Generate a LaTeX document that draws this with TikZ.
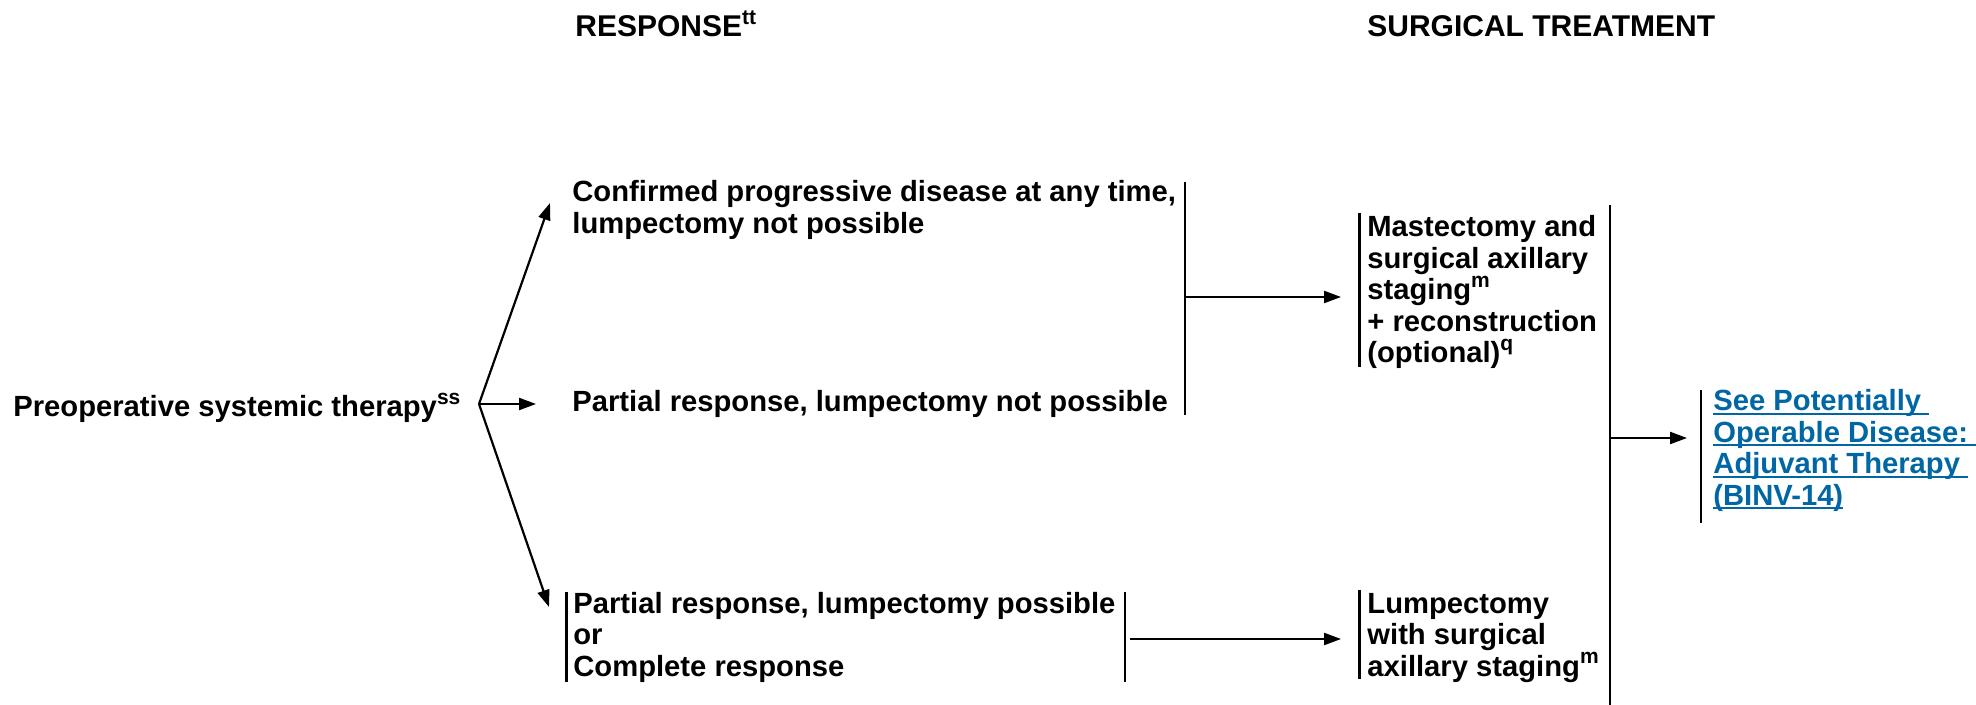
\documentclass[tikz,border=0pt]{standalone}
\usepackage{fontspec}
\setmainfont{Liberation Sans}
\usetikzlibrary{arrows.meta,calc}
\definecolor{linkblue}{RGB}{0,103,164}
\newcommand{\mybodyfont}{\fontsize{14.6pt}{15.75pt}\selectfont\bfseries}
\newcommand{\myheadfont}{\fontsize{15pt}{16pt}\selectfont\bfseries}
\newcommand{\myul}[1]{\setbox0\hbox{#1}\rlap{\rule[-2.1pt]{\wd0}{0.9pt}}\box0}
\newcommand{\mysup}[1]{\raisebox{6.3pt}{\fontsize{10.5pt}{11pt}\selectfont #1}}
\begin{document}
\begin{tikzpicture}[x=0.5pt,y=-0.5pt,
  txt/.style={anchor=base west, inner sep=0pt, align=left, font=\mybodyfont},
  head/.style={anchor=base west, inner sep=0pt, font=\myheadfont},
  link/.style={text=linkblue},
  conn/.style={line width=1.1pt},
  arr/.style={line width=1.1pt,-{Triangle[length=8.5pt,width=6pt]}}]
\useasboundingbox (0,0) rectangle (1976,705);

% headers
\node[head] (hresp) at (575,37) {RESPONSE\mysup{tt}};
\node[head] (hsurg) at (1367,37) {SURGICAL TREATMENT};

% text nodes (anchor = baseline of the last line)
\node[txt] (pre) at (13,417) {Preoperative systemic therapy\mysup{ss}};
\node[txt] (conf) at (572,233.5) {Confirmed progressive disease at any time,\\lumpectomy not possible};
\node[txt] (pnp) at (572,412) {Partial response, lumpectomy not possible};
\node[txt] (plp) at (573,676) {Partial response, lumpectomy possible\\or\\Complete response};
\node[txt] (mast) at (1367,363) {Mastectomy and\\surgical axillary\\staging\mysup{m}\\+ reconstruction\\(optional)\mysup{q}};
\node[txt] (lump) at (1367,676) {Lumpectomy\\with surgical\\axillary staging\mysup{m}};
\node[txt,link] (see) at (1713,505) {\myul{See Potentially\ }\\\myul{Operable Disease:\ }\\\myul{Adjuvant Therapy\ }\\\myul{(BINV-14)}};

% coordinates
\coordinate (fork) at (479,404);
\coordinate (tconf) at (550,203);
\coordinate (tpnp) at (536,404);
\coordinate (tplp) at (549,607);
\coordinate (b1top) at (1185,182);
\coordinate (b1bot) at (1185,415);
\coordinate (b1mid) at (1185,297);
\coordinate (tmast) at (1341,297);
\coordinate (plpL1) at (566.5,592);
\coordinate (plpL2) at (566.5,682);
\coordinate (plpR1) at (1125,592);
\coordinate (plpR2) at (1125,682);
\coordinate (plpout) at (1130,639);
\coordinate (tlump) at (1341,639);
\coordinate (mastb1) at (1359.5,213);
\coordinate (mastb2) at (1359.5,367);
\coordinate (lumpb1) at (1359.5,590);
\coordinate (lumpb2) at (1359.5,679);
\coordinate (bigtop) at (1610,205);
\coordinate (bigbot) at (1610,705);
\coordinate (bigmid) at (1610,438);
\coordinate (tsee) at (1687,438);
\coordinate (seeb1) at (1701,390);
\coordinate (seeb2) at (1701,523);

% connectors
\draw[arr] (fork) -- (tconf);
\draw[arr] (fork) -- (tpnp);
\draw[arr] (fork) -- (tplp);
\draw[conn] (b1top) -- (b1bot);
\draw[arr] (b1mid) -- (tmast);
\draw[conn] (plpL1) -- (plpL2);
\draw[conn] (plpR1) -- (plpR2);
\draw[arr] (plpout) -- (tlump);
\draw[conn] (mastb1) -- (mastb2);
\draw[conn] (lumpb1) -- (lumpb2);
\draw[conn] (bigtop) -- (bigbot);
\draw[arr] (bigmid) -- (tsee);
\draw[conn] (seeb1) -- (seeb2);
\end{tikzpicture}
\end{document}
